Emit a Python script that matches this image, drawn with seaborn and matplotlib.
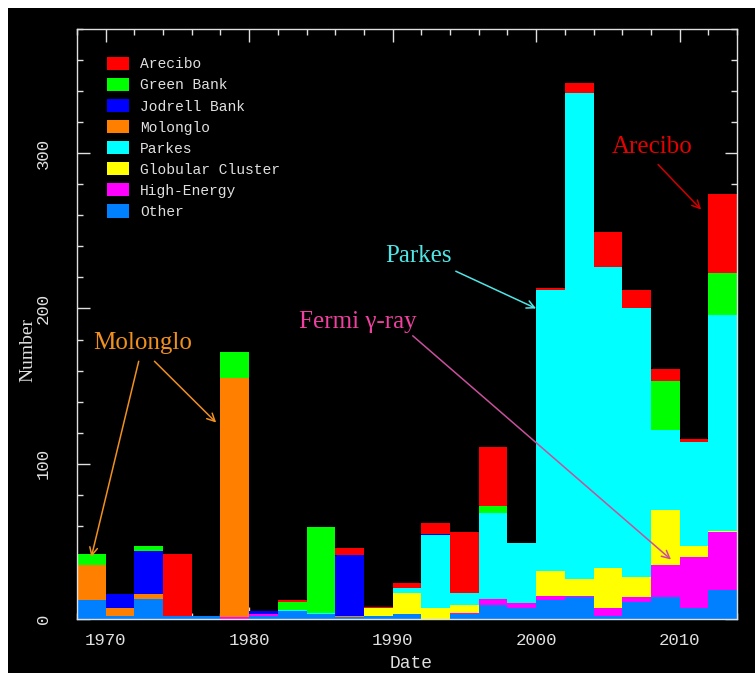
import numpy as np
import pandas as pd
import seaborn as sns
import matplotlib
matplotlib.use('Agg')
import matplotlib.pyplot as plt
from matplotlib.patches import Patch, Rectangle
from matplotlib.ticker import MultipleLocator

# discoveries per 2-year bin, bin start years 1968 ... 2012
bin_starts = list(range(1968, 2014, 2))

surveys = ['Arecibo', 'Green Bank', 'Jodrell Bank', 'Molonglo',
           'Parkes', 'Globular Cluster', 'High-Energy', 'Other']
colours = ['#ff0000', '#00ff00', '#0000ff', '#ff8000',
           '#00ffff', '#ffff00', '#ff00ff', '#0080ff']

arecibo   = [0, 0, 0, 40, 0, 0, 0, 1, 0, 5, 1, 3, 7, 39, 38, 0, 1, 6, 22, 12, 8, 2, 51]
greenbank = [7, 0, 3, 0, 0, 17, 0, 5, 55, 0, 0, 0, 0, 0, 5, 0, 0, 0, 0, 0, 31, 0, 27]
jodrell   = [0, 9, 28, 0, 0, 0, 2, 0, 0, 39, 0, 0, 1, 0, 0, 0, 0, 0, 0, 0, 0, 0, 0]
molonglo  = [23, 5, 3, 0, 0, 154, 0, 0, 0, 1, 0, 0, 0, 0, 0, 0, 0, 0, 0, 0, 0, 0, 0]
parkes    = [0, 0, 0, 0, 0, 0, 0, 1, 1, 0, 0, 3, 47, 8, 55, 39, 181, 313, 194, 173, 52, 67, 139]
globular  = [0, 0, 0, 0, 0, 0, 0, 0, 0, 0, 5, 14, 7, 5, 0, 0, 16, 11, 26, 13, 35, 7, 1]
highenergy = [0, 0, 0, 0, 0, 1, 1, 0, 0, 0, 0, 0, 0, 1, 4, 3, 3, 1, 5, 3, 21, 33, 37]
other     = [12, 2, 13, 2, 2, 0, 2, 5, 3, 1, 2, 3, 0, 3, 9, 7, 12, 14, 2, 11, 14, 7, 19]

counts = [arecibo, greenbank, jodrell, molonglo, parkes, globular, highenergy, other]

rows = []
for name, vals in zip(surveys, counts):
    for start, n in zip(bin_starts, vals):
        rows.append({'year': start + 1, 'survey': name, 'n': n})
df = pd.DataFrame(rows)

sns.set_style('dark')
plt.rcParams['font.family'] = ['Liberation Serif', 'DejaVu Serif']

fg = '#e0e0e0'
fig = plt.figure(figsize=(7.55, 6.73), dpi=100)
fig.patch.set_facecolor('white')
fig.patches.append(Rectangle((8 / 755, 0), 1, (673 - 8) / 673, transform=fig.transFigure,
                             facecolor='black', edgecolor='none', zorder=-10))
ax = fig.add_axes([77 / 755, (673 - 619) / 673, 660 / 755, 590 / 673])
ax.set_facecolor('black')

sns.histplot(data=df, x='year', weights='n', hue='survey', hue_order=surveys,
             palette=colours, multiple='stack', binwidth=2, binrange=(1968, 2014),
             element='bars', linewidth=0, alpha=1, legend=False, ax=ax)

ax.set_xlim(1968, 2014)
ax.set_ylim(0, 380)
ax.xaxis.set_major_locator(MultipleLocator(10))
ax.xaxis.set_minor_locator(MultipleLocator(2))
ax.yaxis.set_major_locator(MultipleLocator(100))
ax.yaxis.set_minor_locator(MultipleLocator(20))
ax.grid(False)
for sp in ax.spines.values():
    sp.set_color(fg)
    sp.set_linewidth(1)
    sp.set_zorder(5)
ax.tick_params(which='both', direction='in', top=True, right=True, left=True, bottom=True,
               colors=fg, width=1, zorder=5)
ax.tick_params(which='major', length=9)
ax.tick_params(which='minor', length=4.5)
ax.tick_params(axis='x', which='major', pad=10, labelsize=12.5)
ax.tick_params(axis='y', which='major', pad=24, labelsize=12.5)
for lab in ax.get_xticklabels() + ax.get_yticklabels():
    lab.set_family(['Liberation Mono', 'DejaVu Sans Mono'])
    lab.set_color(fg)
for lab in ax.get_yticklabels():
    lab.set_rotation(90)
    lab.set_va('center')
    lab.set_ha('center')

ax.set_xlabel('Date', color=fg, fontsize=13, family=['Liberation Mono'], va='center')
ax.xaxis.set_label_coords(0.506, -0.075)
ax.set_ylabel('Number', color=fg, fontsize=14, va='center')
ax.yaxis.set_label_coords(-0.074, 0.456)

# legend
handles = [Patch(facecolor=c, edgecolor='none') for c in colours]
leg = ax.legend(handles, surveys, loc='upper left', bbox_to_anchor=(0.025, 0.975),
                frameon=False, handlelength=1.5, handleheight=1.0, labelspacing=0.45,
                handletextpad=0.8, prop={'family': 'Liberation Mono', 'size': 10.5})
for t in leg.get_texts():
    t.set_color(fg)

# annotations
def arrow(start, end, col):
    ax.annotate('', xy=end, xytext=start,
                arrowprops=dict(arrowstyle='->', color=col, lw=1.1,
                                shrinkA=0, shrinkB=0, mutation_scale=14))

mol = '#f0901e'
ax.text(1972.6, 178, 'Molonglo', color=mol, fontsize=18, ha='center', va='center')
arrow((1972.3, 166), (1969.0, 40), mol)
arrow((1973.4, 166), (1977.7, 126.5), mol)

pk = '#50e6e6'
ax.text(1991.8, 234, 'Parkes', color=pk, fontsize=18, ha='center', va='center')
arrow((1994.4, 224), (2000.0, 200), pk)

fm = '#f040a0'
ax.text(1987.6, 191.5, 'Fermi γ-ray', color=fm, fontsize=18, ha='center', va='center')
arrow((1991.4, 182.4), (2009.4, 38.3), '#c8509c')

ar = '#e80000'
ax.text(2008.1, 303.7, 'Arecibo', color=ar, fontsize=18, ha='center', va='center')
arrow((2008.5, 292.7), (2011.5, 263.7), '#d00000')

fig.savefig('out.png', dpi=100, facecolor=fig.get_facecolor())
